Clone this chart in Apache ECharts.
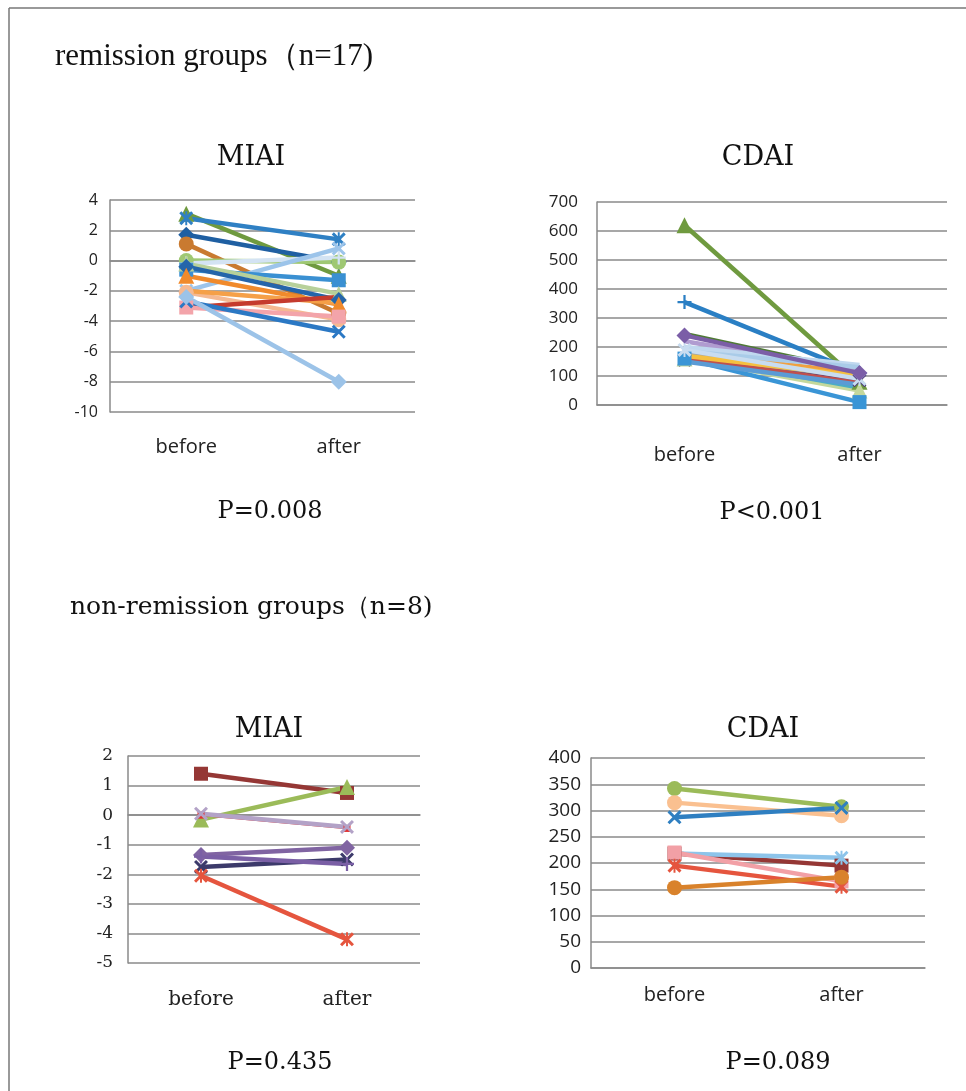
<!DOCTYPE html>
<html>
<head>
<meta charset="utf-8">
<script src="https://cdn.jsdelivr.net/npm/echarts@6/dist/echarts.min.js"></script>
<style>
html,body{margin:0;padding:0;background:#fff;}
#main{width:966px;height:1091px;}
</style>
</head>
<body>
<div id="main"></div>
<script>
// ---------- data ----------
const categories = ['before', 'after'];

// remission group (n=17) MIAI
const remMIAI_before = [3.1, 2.8, 1.7, 1.1, 0.0, -0.2, -2.0, -0.6, -0.2, -0.4, -1.0, -2.1, -2.0, -3.1, -3.1, -2.7, -2.4];
const remMIAI_after  = [-1.0, 1.4, -0.1, -3.5, -0.1, 0.2, 0.8, -1.3, -2.2, -2.6, -2.9, -3.9, -2.8, -2.4, -3.7, -4.7, -8.0];

// remission group (n=17) CDAI
const remCDAI_before = [620, 245, 355, 220, 200, 180, 185, 155, 160, 160, 170, 165, 175, 170, 150, 190, 240];
const remCDAI_after  = [80, 115, 110, 120, 138, 110, 130, 85, 50, 10, 60, 75, 95, 100, 70, 90, 110];

// non-remission group (n=8) MIAI
const nonMIAI_before = [1.4, -0.15, 0.0, 0.05, -1.35, -1.75, -1.4, -2.05];
const nonMIAI_after  = [0.75, 0.95, -0.45, -0.4, -1.1, -1.5, -1.65, -4.2];

// non-remission group (n=8) CDAI
const nonCDAI_before = [342, 315, 287, 218, 218, 220, 195, 153];
const nonCDAI_after  = [307, 290, 305, 195, 210, 165, 155, 173];

// ---------- styles ----------
const SYM_X = 'path://M1.5,0 L5,3.5 L8.5,0 L10,1.5 L6.5,5 L10,8.5 L8.5,10 L5,6.5 L1.5,10 L0,8.5 L3.5,5 L0,1.5 Z';
const SYM_PLUS = 'path://M4.2,0 L5.8,0 L5.8,4.2 L10,4.2 L10,5.8 L5.8,5.8 L5.8,10 L4.2,10 L4.2,5.8 L0,5.8 L0,4.2 L4.2,4.2 Z';
const SYM_AST = 'path://M1.5,0 L5,3.5 L8.5,0 L10,1.5 L6.5,5 L10,8.5 L8.5,10 L5,6.5 L1.5,10 L0,8.5 L3.5,5 L0,1.5 Z M4.3,0 L5.7,0 L5.7,10 L4.3,10 Z';

const remMIAI_style = [
  ['#6f9a3f','triangle'], ['#2f80c4',SYM_AST], ['#1f5fa2','diamond'], ['#c97a30','circle'],
  ['#9fc873','circle'], ['#d3e3f3',SYM_PLUS], ['#9cc4ea',SYM_X], ['#3a90d2','rect'],
  ['#b7d09a','triangle'], ['#2565aa','diamond'], ['#f08a2c','triangle'], ['#f5b992','circle'],
  ['#f5a048','none'], ['#c53b2e','none'], ['#f3a4aa','rect'], ['#2b78c4',SYM_X], ['#9cc3e8','diamond']
];
const remCDAI_style = [
  ['#6f9a3f','triangle'], ['#4f7a35','none'], ['#2a7fc4',SYM_PLUS], ['#b09cd0','none'],
  ['#c0d8ef','none'], ['#f0a040','none'], ['#a9cbe8','none'], ['#4b3a78',SYM_X],
  ['#c4d89c','triangle'], ['#3a95d6','rect'], ['#4bacc6','none'], ['#c0504d','none'],
  ['#a5a5a5','none'], ['#f5c040','none'], ['#5b9bd5','none'], ['#c8dcf0',SYM_AST], ['#7b5ea7','diamond']
];
const nonMIAI_style = [
  ['#953735','rect',4.5], ['#9bbb59','triangle',4.5], ['#e03030','rect',1.5], ['#b3a2c7',SYM_X,4.5],
  ['#8064a2','diamond',4.5], ['#3c3a6a',SYM_X,4.5], ['#7a5fa5',SYM_PLUS,4.5], ['#e5553e',SYM_AST,4.5]
];
const nonCDAI_style = [
  ['#9bbb59','circle'], ['#fac090','circle'], ['#2f7fc1',SYM_X], ['#953735','rect'],
  ['#8dc4ea',SYM_AST], ['#f2a0a6','rect'], ['#e5553e',SYM_AST], ['#d9822b','circle']
];

function symSize(sym, small) {
  if (small) return 7;
  if (sym === 'circle') return 15;
  if (sym === 'rect') return 14;
  if (sym === 'triangle' || sym === 'diamond') return 16;
  return 14;
}

function makeSeries(before, after, styles, idx) {
  return before.map((b, i) => {
    const st = styles[i];
    const isSmall = st[2] && st[2] < 2;
    return {
      type: 'line',
      xAxisIndex: idx, yAxisIndex: idx,
      data: [b, after[i]],
      symbol: st[1],
      symbolSize: symSize(st[1], isSmall),
      lineStyle: { color: st[0], width: st[2] || 4.5 },
      itemStyle: { color: st[0] },
      emphasis: { disabled: true },
      silent: true
    };
  });
}

const gridCol = '#8a8a8a';
function yAx(idx, min, max, interval, font, size, margin) {
  return {
    type: 'value', gridIndex: idx, min: min, max: max, interval: interval,
    axisLine: { show: true, lineStyle: { color: gridCol, width: 1.5 } },
    axisTick: { show: false },
    splitLine: { show: true, lineStyle: { color: gridCol, width: 1.5 } },
    axisLabel: { color: '#222', fontFamily: font, fontSize: size, margin: margin }
  };
}
function xAx(idx, font, size, margin) {
  return {
    type: 'category', gridIndex: idx, data: categories, boundaryGap: true,
    axisLine: { show: true, lineStyle: { color: gridCol, width: 1.5 } },
    axisTick: { show: false },
    splitLine: { show: false },
    axisLabel: { color: '#222', fontFamily: font, fontSize: size, margin: margin }
  };
}

function txt(text, x, y, size, family, align) {
  return {
    type: 'text', x: x, y: y, silent: true,
    style: { text: text, fontSize: size, fontFamily: family, fill: '#111',
      align: align || 'center', verticalAlign: 'middle',
      textAlign: align || 'center', textVerticalAlign: 'middle' }
  };
}

const SANS = 'Open Sans';
const SERIF = 'DejaVu Serif';

const option = {
  animation: false,
  backgroundColor: '#fff',
  grid: [
    { left: 110, top: 200, width: 305, height: 212 },
    { left: 597, top: 202, width: 350, height: 203 },
    { left: 128, top: 756, width: 292, height: 207 },
    { left: 591, top: 758, width: 334, height: 210 }
  ],
  xAxis: [
    xAx(0, SANS, 20, 25),
    xAx(1, SANS, 20, 40),
    xAx(2, SERIF, 20, 27),
    xAx(3, SANS, 20, 17)
  ],
  yAxis: [
    yAx(0, -10, 4, 2, SANS, 16, 12),
    yAx(1, 0, 700, 100, SANS, 17, 19),
    yAx(2, -5, 2, 1, SERIF, 17, 15),
    yAx(3, 0, 400, 50, SANS, 19, 10)
  ],
  series: [].concat(
    makeSeries(remMIAI_before, remMIAI_after, remMIAI_style, 0),
    makeSeries(remCDAI_before, remCDAI_after, remCDAI_style, 1),
    makeSeries(nonMIAI_before, nonMIAI_after, nonMIAI_style, 2),
    makeSeries(nonCDAI_before, nonCDAI_after, nonCDAI_style, 3)
  ),
  graphic: [
    { type: 'line', silent: true, shape: { x1: 9, y1: 8, x2: 966, y2: 8 }, style: { stroke: '#777', lineWidth: 1.5 } },
    { type: 'line', silent: true, shape: { x1: 9, y1: 8, x2: 9, y2: 1091 }, style: { stroke: '#777', lineWidth: 1.5 } },
    txt('remission groups（n=17)', 55, 57, 31, 'Liberation Serif', 'left'),
    txt('non-remission groups（n=8)', 70, 607, 25, SERIF, 'left'),
    txt('MIAI', 251, 158, 27, SERIF),
    txt('CDAI', 758, 158, 27, SERIF),
    txt('MIAI', 269, 730, 27, SERIF),
    txt('CDAI', 763, 730, 27, SERIF),
    txt('P=0.008', 270, 512, 24, SERIF),
    txt('P<0.001', 772, 513, 24, SERIF),
    txt('P=0.435', 280, 1063, 24, SERIF),
    txt('P=0.089', 778, 1063, 24, SERIF)
  ]
};

const chart = echarts.init(document.getElementById('main'), null, { renderer: 'canvas' });
chart.setOption(option);
</script>
</body>
</html>
